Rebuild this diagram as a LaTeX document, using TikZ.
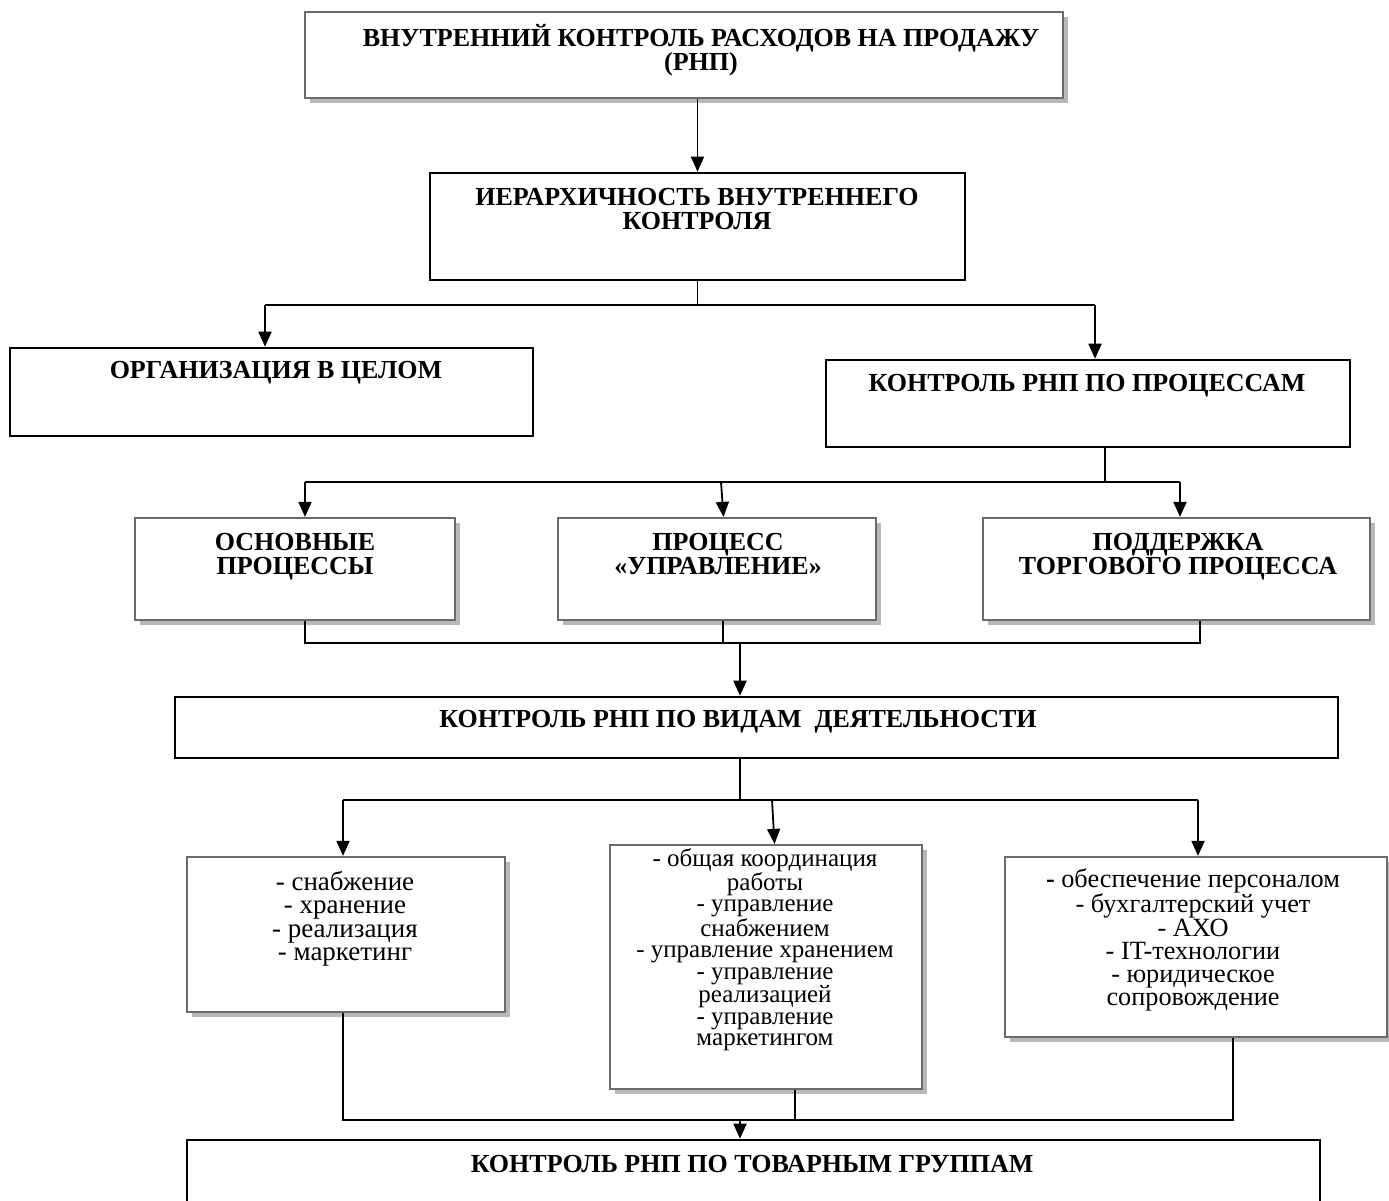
\documentclass[tikz,border=0pt]{standalone}
\usepackage{fontspec}
\setmainfont{Liberation Serif}
\usetikzlibrary{arrows.meta,shadows}

\begin{document}
\begin{tikzpicture}[x=1pt,y=-1pt,
  shadowbox/.style={draw=black!58, line width=2.2pt, fill=white, inner sep=0pt,
    drop shadow={shadow xshift=4.5pt, shadow yshift=-4.5pt, fill=black!28, opacity=1}},
  plainbox/.style={draw=black, line width=2.6pt, fill=white, inner sep=0pt},
  head/.style={font=\bfseries\fontsize{26}{23.5}\selectfont, align=center, inner sep=0pt},
  list/.style={font=\fontsize{27}{23.5}\selectfont, align=center, inner sep=0pt},
  link/.style={line width=1.8pt},
  arr/.style={link, -{Triangle[length=15pt,width=13pt]}},
]
\useasboundingbox (0,0) rectangle (1389,1200);
\clip (0,0) rectangle (1389,1200);

% ---- level 1
\node[shadowbox, minimum width=758pt, minimum height=86pt] (top) at (684,55) {};
\node[head] (topt) at (701,50) {ВНУТРЕННИЙ КОНТРОЛЬ РАСХОДОВ НА ПРОДАЖУ\\(РНП)};

% ---- level 2
\node[plainbox, minimum width=535pt, minimum height=107pt] (hier) at (697.5,226.5) {};
\node[head] (hiert) at (697,209) {ИЕРАРХИЧНОСТЬ ВНУТРЕННЕГО\\КОНТРОЛЯ};

% ---- level 3
\node[plainbox, minimum width=523pt, minimum height=88pt] (org) at (271.5,392) {};
\node[head] (orgt) at (276,373) {ОРГАНИЗАЦИЯ В ЦЕЛОМ};
\node[plainbox, minimum width=524pt, minimum height=87pt] (proc) at (1088,403.5) {};
\node[head] (proct) at (1087,386) {КОНТРОЛЬ РНП ПО ПРОЦЕССАМ};

% ---- level 4: processes (anchored at the baseline of the second line)
\node[shadowbox, minimum width=320pt, minimum height=102pt] (osn) at (295,569) {};
\node[head, anchor=base] (osnt) at (295,574) {ОСНОВНЫЕ\\ПРОЦЕССЫ};
\node[shadowbox, minimum width=318pt, minimum height=102pt] (upr) at (717,569) {};
\node[head, anchor=base] (uprt) at (718,574) {ПРОЦЕСС\\«УПРАВЛЕНИЕ»};
\node[shadowbox, minimum width=387pt, minimum height=102pt] (sup) at (1176.5,569) {};
\node[head, anchor=base] (supt) at (1178,574) {ПОДДЕРЖКА\\ТОРГОВОГО ПРОЦЕССА};

% ---- level 5
\node[plainbox, minimum width=1163pt, minimum height=61pt] (vid) at (756.5,727.5) {};
\node[head] (vidt) at (738,722) {КОНТРОЛЬ РНП ПО ВИДАМ\ \ ДЕЯТЕЛЬНОСТИ};

% ---- level 6: activities
\node[shadowbox, minimum width=318pt, minimum height=155pt] (act1) at (346,934.5) {};
\node[list] (act1t) at (345,918.5) {- снабжение\\- хранение\\- реализация\\- маркетинг};
\node[shadowbox, minimum width=312pt, minimum height=244pt] (act2) at (766,967) {};
\node[list, anchor=north, font=\fontsize{25}{21.5}\selectfont] (act2t) at (765,848)
  {- общая координация\\работы\\- управление\\снабжением\\- управление хранением\\- управление\\реализацией\\- управление\\маркетингом};
\node[shadowbox, minimum width=382pt, minimum height=180pt] (act3) at (1196,947) {};
\node[list, font=\fontsize{26.3}{23}\selectfont] (act3t) at (1193,940)
  {\textbf{-} обеспечение персоналом\\- бухгалтерский учет\\- АХО\\- IT-технологии\\- юридическое\\сопровождение};

% ---- level 7
\node[plainbox, minimum width=1133pt, minimum height=80pt] (grp) at (753.5,1180) {};
\node[head] (grpt) at (752,1164) {КОНТРОЛЬ РНП ПО ТОВАРНЫМ ГРУППАМ};

% ---- connectors
\draw[arr] (top.south -| hier.north) -- (hier.north);

\coordinate (j1) at (697.5,305);
\coordinate (j1l) at (265,305);
\coordinate (j1r) at (1095,305);
\draw[link] (hier.south) -- (j1);
\draw[link] (j1l) -- (j1r);
\draw[arr] (j1l) -- (j1l |- org.north);
\draw[arr] (j1r) -- (j1r |- proc.north);

\coordinate (j2) at (1105,482);
\coordinate (j2l) at (305,482);
\coordinate (j2m) at (721,482);
\coordinate (j2r) at (1180,482);
\draw[link] (j2 |- proc.south) -- (j2);
\draw[link] (j2l) -- (j2r);
\draw[arr] (j2l) -- (j2l |- osn.north);
\draw[arr] (j2m) -- ([xshift=2.5pt]j2m |- upr.north);
\draw[arr] (j2r) -- (j2r |- sup.north);

\coordinate (j3l) at (305,643);
\coordinate (j3m) at (723,643);
\coordinate (j3r) at (1200,643);
\coordinate (j3) at (740,643);
\draw[link] (j3l |- osn.south) -- (j3l) -- (j3r) -- (j3r |- sup.south);
\draw[link] (j3m |- upr.south) -- (j3m);
\draw[arr] (j3) -- (j3 |- vid.north);

\coordinate (j4) at (740,800);
\coordinate (j4l) at (343,800);
\coordinate (j4m) at (772,800);
\coordinate (j4r) at (1198,800);
\draw[link] (j4 |- vid.south) -- (j4);
\draw[link] (j4l) -- (j4r);
\draw[arr] (j4l) -- (j4l |- act1.north);
\draw[arr] (j4m) -- ([xshift=2.5pt]j4m |- act2.north);
\draw[arr] (j4r) -- (j4r |- act3.north);

\coordinate (j5l) at (343,1120);
\coordinate (j5m) at (795,1120);
\coordinate (j5r) at (1233,1120);
\coordinate (j5) at (740,1120);
\draw[link] (j5l |- act1.south) -- (j5l) -- (j5r) -- (j5r |- act3.south);
\draw[link] (j5m |- act2.south) -- (j5m);
\draw[arr] (j5) -- (j5 |- grp.north);
\end{tikzpicture}
\end{document}
